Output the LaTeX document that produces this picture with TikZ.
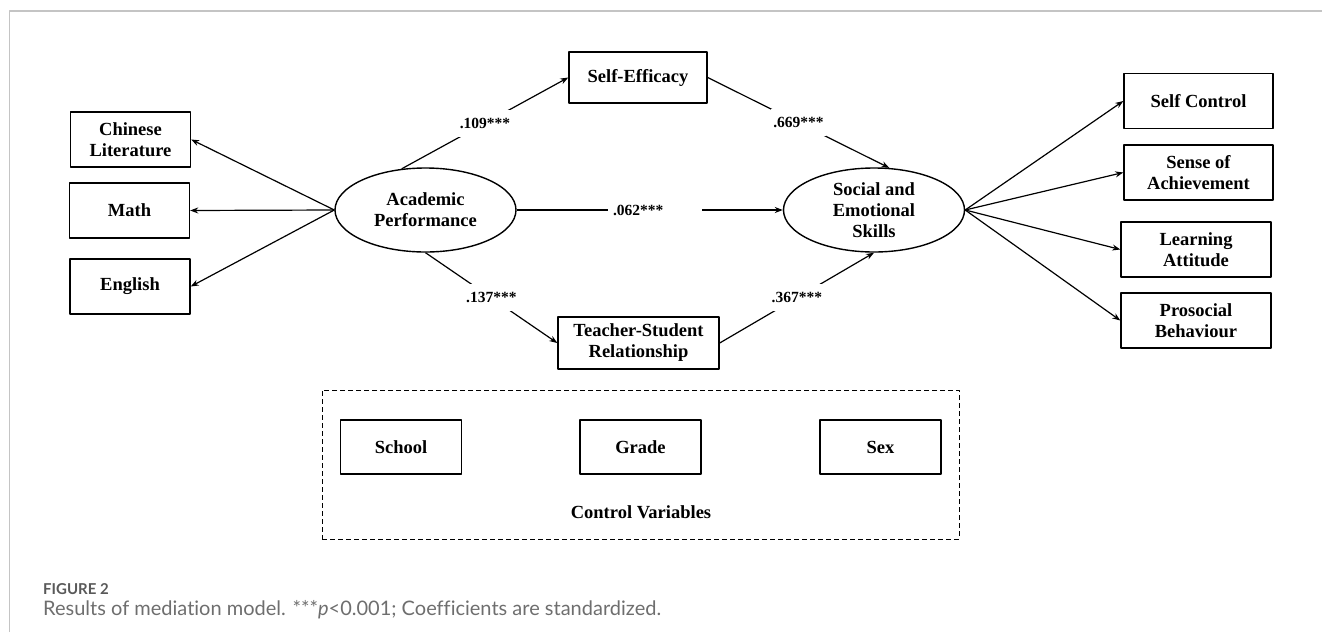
\documentclass[tikz,border=0pt]{standalone}
\usepackage{fontspec}
\setmainfont{Liberation Serif}
\newfontfamily\capfont[Ligatures=NoCommon]{Lato}
\usetikzlibrary{shapes.geometric,arrows.meta}
\definecolor{framegray}{HTML}{C4C4C4}
\definecolor{figgray}{HTML}{595959}
\definecolor{capgray}{HTML}{6E6E6E}
\begin{document}
\begin{tikzpicture}[x=1pt, y=-1pt, line join=round, >={Stealth[length=8pt,width=6pt]},
  font=\fontsize{18.5}{21}\selectfont\bfseries,
  box/.style={draw, line width=1.4pt, minimum width=120pt, minimum height=55pt, align=center, inner sep=0pt},
  latent/.style={draw, ellipse, line width=1.4pt, minimum width=181pt, minimum height=84pt, align=center, inner sep=0pt},
  path/.style={->, line width=1.2pt},
  coef/.style={fill=white, font=\fontsize{15.5}{15.5}\selectfont\bfseries, inner xsep=2pt, inner ysep=8.5pt, text height=10pt, text depth=0pt}]
\useasboundingbox (0,0) rectangle (1322,632);
\draw[framegray, line width=1.6pt] (9.5,632) -- (9.5,11) -- (1322,11);
% latent variables
\node[latent] (acad) at (425.5,210) {Academic\\Performance};
\node[latent] (ses) at (874,210) {Social and\\Emotional\\Skills};
% indicators and mediators
\node[box] (chin) at (130.5,139.5) {Chinese\\Literature};
\node[box] (math) at (129.5,210.5) {Math};
\node[box] (eng) at (130,286.5) {English};
\node[box, minimum width=138pt, minimum height=51pt] (self) at (638,77.5) {Self-Efficacy};
\node[box, minimum width=161pt, minimum height=52pt] (tsr) at (638.5,343) {Teacher-Student\\Relationship};
\node[box, minimum width=149pt] (sc) at (1198.5,101) {Self Control};
\node[box, minimum width=149pt] (sa) at (1198.5,172.5) {Sense of\\Achievement};
\node[box, minimum width=150pt] (la) at (1196,249.5) {Learning\\Attitude};
\node[box, minimum width=150pt] (pb) at (1196,320.5) {Prosocial\\Behaviour};
% control variables
\node[draw, dashed, dash pattern=on 5pt off 3pt, line width=1pt, minimum width=637pt, minimum height=149pt] (ctrl) at (640.5,464.5) {};
\node[box, minimum width=121pt, minimum height=54pt, text height=12.5pt, text depth=0pt] (school) at (401,447) {School};
\node[box, minimum width=121pt, minimum height=54pt, text height=12.5pt, text depth=0pt] (grade) at (640.5,447) {Grade};
\node[box, minimum width=121pt, minimum height=54pt, text height=12.5pt, text depth=0pt] (sex) at (880.5,447) {Sex};
\node (ctrllab) at (641,512) {Control Variables};
% paths
\foreach \t in {chin,math,eng} \draw[path] (acad.west) -- (\t.east);
\draw[path] (acad.120) -- node[coef]{.109***} (self.west);
\draw[path] (self.east) -- node[coef]{.669***} (ses.70);
\draw[path] (acad.east) -- node[coef, pos=0.52, text width=84pt, inner xsep=5pt, align=left]{.062***} (ses.west);
\draw[path] (acad.south) -- node[coef]{.137***} (tsr.west);
\draw[path] (tsr.east) -- node[coef]{.367***} (ses.south);
\foreach \t in {sc,sa,la,pb} \draw[path] (ses.east) -- (\t.west);
% caption
\node[anchor=base west, inner sep=0pt, text=figgray, font=\capfont\bfseries\fontsize{15}{15}\selectfont] (fig) at (43,594) {FIGURE 2};
\node[anchor=base west, inner sep=0pt, text=capgray, font=\capfont\fontsize{20}{20}\selectfont] (cap) at (43,615) {Results of mediation model. ***\textit{p}<0.001; Coefficients are standardized.};
\end{tikzpicture}
\end{document}
